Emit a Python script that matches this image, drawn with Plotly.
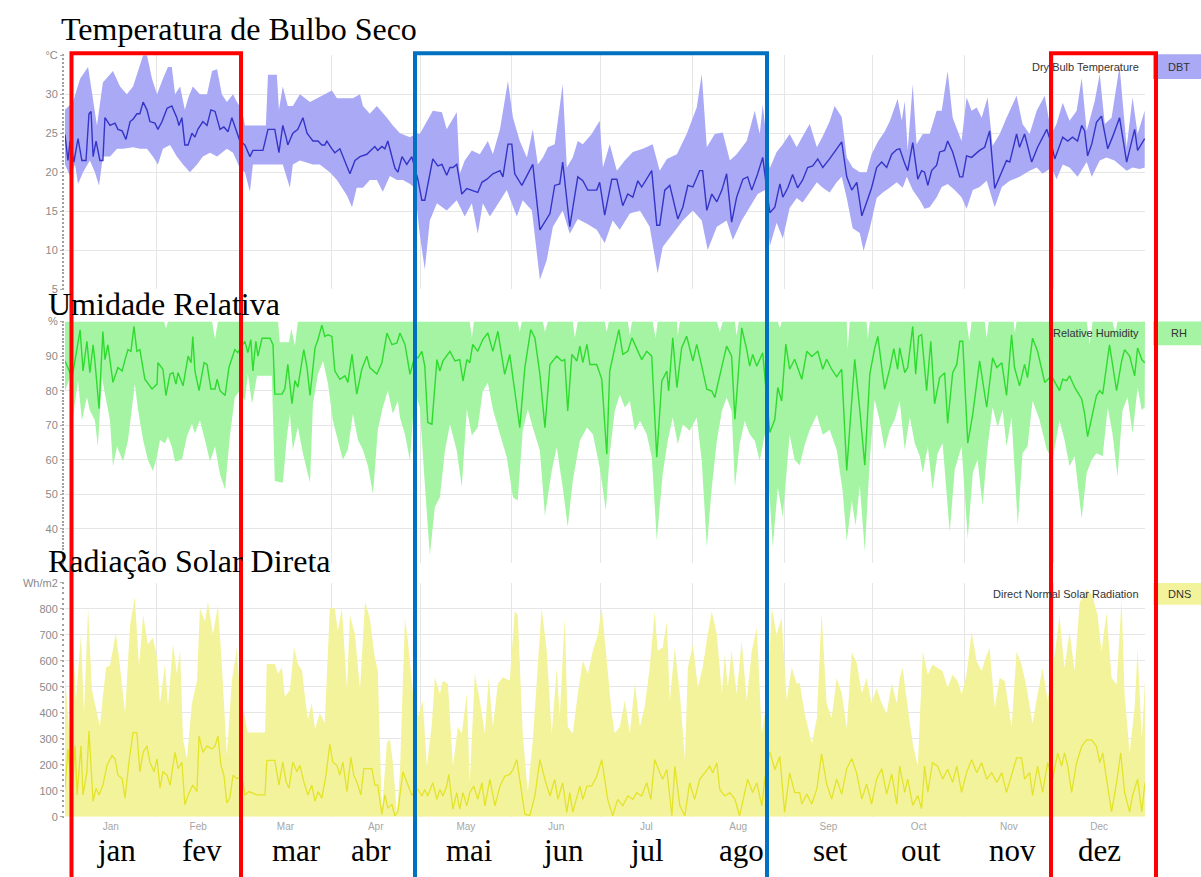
import plotly.graph_objects as go

W, H = 1201, 877

# ---------------- data ----------------
months_en = ["Jan", "Feb", "Mar", "Apr", "May", "Jun", "Jul", "Aug", "Sep", "Oct", "Nov", "Dec"]
months_pt = ["jan", "fev", "mar", "abr", "mai", "jun", "jul", "ago", "set", "out", "nov", "dez"]
month_start = [0, 31, 59, 90, 120, 151, 181, 212, 243, 273, 304, 334]
month_mid = [15.5, 45, 74.5, 105, 135.5, 166, 196.5, 227.5, 258, 288.5, 319, 349.5]

dbt_mean_day = [0,1,1.7,3,4.4,5.7,7.1,8.1,8.8,9.5,10.5,11.8,12.8,13.5,15.2,16.9,17.9,19.3,20.6,22,23,24.3,25.3,26.4,27.7,28.7,30.4,31.4,32.8,34.5,36.1,37.8,38.5,39.5,40.5,41.6,42.9,43.9,44.9,46.6,48,49.3,50.7,52.4,53.7,55.1,56.4,57.8,59.1,60.8,62.5,63.5,66.9,68.6,70.9,72.3,73.6,74.7,75.3,77,78.7,80.4,81.8,82.8,83.8,85.5,86.8,87.8,88.5,90.2,91.2,92.9,93.9,96.3,98,99.7,102,103.7,104.7,105.7,107.1,108.1,109.1,111.5,112.5,113.9,115.5,117.2,119.3,120.6,121.6,124.3,126,127.4,129,130.1,131.1,132.4,134.1,135.8,137.5,139.5,140.9,142.6,144.6,147,148,149.7,151,152,154.4,156.1,158.1,160.5,162.2,163.9,165.5,167.2,168.2,169.6,170.6,173.3,175,176.7,179.7,180.7,182.4,184.8,186.5,188.5,190.2,191.9,193.6,194.9,198.3,200,201,202.7,204.4,207.1,208.8,210.5,212.2,214.5,215.5,216.9,218.6,220.3,222,223.6,225.3,227,229.1,230.7,232.1,234.1,235.8,238.2,239.9,241.6,242.6,244.3,245.9,247.6,249.3,251,252.7,254.4,256.1,258.4,260.8,262.5,264.2,265.9,267.6,269.3,270.9,272.6,274.3,276,277.7,279.4,281.1,282.1,283.8,284.8,286.5,288.2,289.5,290.5,291.6,292.9,294.6,295.6,297.3,298.3,300,302.4,303.4,304.7,306.4,309.1,310.8,312.5,314.2,315.9,318.2,319.3,321.6,322.6,324.3,326.7,328.7,331.8,333.4,334.5,337.2,338.9,340.5,342.2,343.6,344.6,345.6,347,348.6,350.3,352.4,354,356.4,358.8,361.5,362.5,364.9]
dbt_mean = [24.8,21.5,24,21.3,24.3,21.5,21.5,27.5,27.8,22,24,21.5,21.5,27,26,26.3,25.5,25.3,24.2,26.5,26.8,27.5,27.5,29,28,26.5,26.3,25.5,26.5,28.2,28.5,27,26,27,23.5,23.5,25,24.5,25.5,26.5,26,28,27.8,25.5,25.8,25.2,27,25.5,24,23.5,22,22.8,22.8,25.5,25.5,22.5,26,24.5,23.5,25,25.5,27,25,24.5,24,24,23.5,23.5,24,23,22.5,23,22,19.8,21.5,22,22.3,23,23.3,22.8,23.3,23,24,20.5,20,22,21,22,19,16.4,16.4,21.7,20.8,21,19.6,20.6,20.6,21,17.2,17.9,17.7,17.4,18.7,19.1,19.8,20.2,19.4,23.6,23.6,19.8,18.3,19.6,21,12.6,13.6,14.7,18.3,18.5,21.3,16,13,19.4,18.9,17.7,17.7,18.7,14.5,19.1,19.1,15.7,17.2,16.8,18.9,18.1,20.2,13.2,13.2,17.7,18.3,14,15.5,18.3,18.1,20.2,20.2,15.1,17.2,16.2,17.7,19.8,13.6,16.8,19.1,19.4,17.7,19.8,21.9,14.8,15.5,18.5,16.8,18,19.7,18,19,20.6,20.8,21.7,20.6,21.7,22.9,23.9,19.4,17.7,18.7,14.4,16.1,18,20.6,21.3,20.6,22.3,22.9,23,21.1,20.2,23.8,19.1,20.2,20,18.3,20.2,20.9,22.6,22.8,24,22.6,19.4,19.4,22.1,21.9,22.8,23.2,25.3,17.9,19.4,21.5,21.3,24.9,23.2,24.9,21.3,23.2,25.5,23.6,21.7,24.5,24,24.5,24,26,25.3,22.1,23.6,26.4,27.2,23,24.5,27,21.3,25.5,22.8,24.3]

dbt_max_day = [0,2.7,5.1,7.8,10.8,12.8,16.2,18.6,20.9,23,26.4,27.7,29.4,31.1,33.1,34.8,36.1,37.2,38.9,40.5,41.6,43.2,45.6,48,49.7,51.4,53,54.7,56.8,58.1,59.8,60.8,63.5,67.9,68.6,71.6,72.3,73.6,75.3,77,79.4,82.8,90.2,91.9,93.9,97.3,99.7,100.7,103,105.4,108.8,110.8,113.2,116.6,118.9,119.9,124.3,127.4,129,132.4,133.4,135.1,137.5,140.2,142.9,144.6,147,149.7,151.4,153.7,156.1,158.1,159.8,161.5,163.2,165.5,168.2,169.6,171.6,173.3,175,178,180.7,181.8,184.1,186.5,189.2,191.9,195.3,198.6,201,203.4,206.8,210.1,213.5,215.2,216.9,219.6,222.3,224.7,227,230.4,233.1,234.8,235.8,238.2,240.5,242.6,244.9,247.3,249.3,251.7,254.1,256.1,258.4,260.1,262.5,264.2,266.2,268.6,270.9,272.6,274.7,277,278.7,281.4,282.8,283.8,284.8,286.5,287.8,289.9,292.2,294.6,296.3,298.3,300,303,304.7,306.4,308.1,309.8,311.8,313.5,315.9,318.2,321.6,323.6,326,328.4,331.1,333.4,335.1,337.2,339.5,341.9,343.6,345.3,348,349.7,351.4,353.7,356.4,358.8,360.8,362.5,364.9]
dbt_max = [28,29,32,33.5,26,31.5,33,31,30,31,35,35,32,30,32,33.5,33.5,30,31,28,29.5,31,30,30,33,33.2,30,29,30,29,28,26,26,26,32.5,32.5,28,31,28.5,28.5,30,29,30.5,29.5,29.5,29.5,30,28.5,27.5,28.5,27,26,25,24.5,25,24.9,27.9,27.7,25.5,27.7,19.8,21.5,22.8,22.3,24,22.3,25.5,31.7,27,24,21.9,25.5,21,21.9,23.2,23.6,31.3,20.6,21.9,24,23.6,24.9,26.6,20.6,23.6,20.2,21.5,22.6,23,23.6,20.2,21.7,22.3,24.9,28.3,32.6,23.2,24.9,25.1,21.5,22.3,24,27.9,24.9,28.7,20.5,22.6,23.6,24.9,23.2,24.6,26.2,23.2,24.6,26.5,28.5,27.1,21.9,20.6,20,20,22.3,23.9,25.2,26.5,29.4,26.6,29.1,22.8,31.3,23.6,24.9,24.9,27.9,27.9,33,27,24,29.6,27.9,28.3,27,29.6,23.4,24.9,27,29.8,26.2,24.9,27.9,29.8,24.9,26.2,28.9,26.6,27.9,32.1,25.3,29.1,32.6,26.2,27,33.6,23.2,29.6,24.9,27.9]

dbt_min_day = [0,1.7,3.4,4.4,6.1,8.4,10.1,11.5,12.8,15.2,17.6,19.6,23,25.3,27.7,29.7,31.4,33.1,35.5,37.8,39.9,42.2,44.6,46.6,49,51.4,54.7,56.8,59.1,60.8,62.5,63.5,67.9,73.6,76,77,79.4,83.8,86.1,89.5,91.9,95.3,97,98.6,100.7,103,105.4,107.4,109.8,112.2,114.2,116.6,118.2,119.9,121.6,123.3,125.7,129,132.4,135.1,137.5,139.5,141.2,143.6,145.9,149.3,152.7,154.7,157.8,160.5,162.8,164.9,168.2,170.6,173.3,176.4,179.7,182.4,185.1,187.5,190.9,194.3,197.6,200.3,202,205.4,208.8,212.2,215.2,217.2,220.3,223.6,225.7,228.7,231.4,234.1,236.5,238.2,240.5,242.6,244.9,247.3,249.3,251.7,254.1,256.1,258.4,260.8,262.5,264.2,266.2,268.6,269.9,272,274.3,276.4,278.7,281.1,283.1,284.5,286.5,288.9,290.5,292.2,294.6,296.3,298.3,300.7,303,304.7,306.8,309.1,311.5,314.2,316.6,319.3,322.6,326,328.4,330.4,333.4,335.1,337.2,339.5,342.2,345.3,347,349.7,352,354.7,358.8,360.8,363.2,364.9]
dbt_min = [21,19.5,21,18.5,20,21.5,20,18.3,22,22,23,23,23.2,23,23,22,21,23,23.5,22,21,20,21,22,22.5,22,23,22.5,20.5,20,17.5,21,21,21,18,21,21.5,21,21,20,19,17,15.5,18,18,19,19,17.5,19.5,19,19,18.5,18,12,7.5,13.8,16,15.1,16.4,14.3,16,12.1,16,14.3,15.7,17.7,14.3,16.4,15.1,6.2,8.7,13,15.1,12.1,14,13.4,12.6,10.9,13.8,12.6,14.7,15.1,13,7,10.4,12.1,13.8,15.1,13.8,10,13,13.8,11.3,13.8,15.5,17.2,17.7,10.5,13.5,11.5,15.4,16.7,16.1,17.4,18.7,18,17.4,18.7,19.4,16.7,12.8,12.2,9.9,12.8,16.7,17.4,18,18.7,18,19.4,17.7,16.4,15.3,15.5,16.8,18.1,18.5,17.7,16.8,15.3,17.7,18.1,18.9,15.5,18.1,18.9,19.4,20.2,20.6,19.8,20.6,19.1,21,20.6,19.4,21.3,19.4,21.5,21.9,21.5,20.2,20.6,20.4,20.6]

rh_mean_day = [0,2.4,4.1,5.1,6.1,7.4,8.4,9.5,10.1,11.5,12.8,13.5,14.5,16.2,17.9,19.3,20.3,21.3,22.3,23.3,24.3,25.3,27,29.4,31.1,31.4,33.1,34.1,35.5,36.5,37.5,38.2,39.9,41.6,42.6,43.2,43.9,45.3,47,48,49.3,50.7,51.4,52.4,54.1,55.4,57.4,58.4,59.8,60.8,61.8,62.8,63.5,64.5,65.2,66.6,69.3,70.3,70.9,73.3,74.3,75.3,76.7,77.7,78.7,80.7,81.8,82.8,84.5,85.5,86.8,87.8,88.9,90.2,91.2,92.9,94.6,95.6,97,98.6,100.3,102,103,105.4,107.1,108.8,110.5,112.2,113.2,114.9,116.6,118.2,119.3,120.6,121.6,122.6,124,125.7,126.7,127.7,130.1,131.8,133.4,134.5,135.8,136.8,137.8,139.5,141.2,142.9,144.6,146.3,148.6,150.3,152,153.7,155.4,157.4,158.8,160.5,162.2,163.9,166.2,167.9,168.9,169.9,171.3,173,174,175,176.4,177.4,179.7,181.4,183.1,184.1,185.8,187.2,188.5,190.2,191.6,193.2,194.9,196.6,198.3,200,201.7,203.4,204,205.4,206.8,208.4,210.1,212.2,213.5,215.2,216.9,218.6,219.6,220.6,222,223.6,225.3,226.4,228.7,230.4,231.4,232.4,233.8,235.8,238.2,239.9,240.9,242.2,243.6,244.9,246.6,249,250.7,252.4,254.4,256.1,257.4,259.1,260.8,262.5,264.2,265.9,266.9,268.6,270.3,272,273.6,274.7,276,277,278.7,280.1,281.4,282.1,283.8,284.8,286.5,287.5,288.5,289.5,291.2,292.6,293.9,295.6,297.3,298.3,300,301.4,302.4,303.4,305.1,306.8,309.1,311.5,313.5,314.9,316.6,318.2,319.9,320.9,322.6,324.3,325.3,327,328.7,331.1,333.4,336.1,337.2,338.5,339.5,341.2,343.6,344.6,345.6,347,348.6,349.7,350.7,353,355.4,357.1,358.1,359.8,361.5,362.5,363.9,364.9]
rh_mean = [88.6,83.8,92.4,97.6,85.7,94.3,85.2,93.3,88.6,74.8,97.1,89,93.3,82.4,86.7,85.7,89,91.9,91.4,98.6,91.4,91.9,83.3,80.5,81.9,88.1,86.2,78.6,84.8,85.2,81.9,85.2,81.4,90,88.1,95.7,85.7,80,88.1,87.6,80.5,80.5,83.3,80,78.6,86.7,91.9,91,92.9,94.3,91,94.8,85.7,94.3,90,95.2,95.2,93.3,79,79,80.5,87.6,76.2,82.9,81,91.9,86.7,78.6,92.4,94.8,99,95.7,96.2,95.7,85.7,83.3,84.3,82.4,90.5,79,86.2,90,86.7,84.8,88.1,96.7,93.3,93.8,96.7,93.4,84.7,90,89.5,91.4,87.1,70.8,70.3,89,85.7,88.6,91.4,88.6,89,82.8,89,88.1,93.4,91.4,94.8,96.7,91.4,97.2,84.7,90.5,79.9,69.3,86.6,97.7,95.3,84.7,69.3,87.6,90,88.6,89,74.1,90.5,88.6,92.9,88.1,93.4,87.6,87.6,83.3,61.6,85.7,92.4,97.7,90.5,91.4,95.3,92.4,89,91.4,90,60.7,82.8,85.7,79.9,95.3,80.9,92.4,95.8,88.6,93.4,87.1,80.4,79.9,78,81.8,87.1,92.9,90,71.7,98.2,91.9,87.1,90.5,87.1,91,67.9,71.7,80.9,77,93.5,86.2,89.1,83.3,91.4,89.9,91.4,86.2,89.1,86.2,84,86.2,56.9,77.4,89.1,74.5,58.4,84.8,92.2,95.7,86.2,80.4,86.2,92.2,86.2,92.4,85.2,86.7,98.6,84.8,95.7,96.2,80,94.3,76.2,83.8,85.2,70.5,85.2,87.6,94.3,94.3,64.8,73.3,88.6,75.2,89.5,86.7,88.1,78.6,96.2,86.7,81.4,87.6,83.8,95.2,91.4,82.4,84.3,80,83.3,82.9,84.3,81,77.6,73.3,66.7,72.4,78.6,80,79,93.3,80,88.6,91.9,90,84.3,92.4,89,88.1]

rh_max_day = [0,33.5,34.1,34.8,49.7,50.7,51.7,72,72.6,75.7,76.5,77.7,78.7,136.8,137.5,138.2,153,153.7,154.4,161.5,162.2,163.2,171.6,172.3,173.3,182.4,183.1,183.8,190.2,190.9,191.6,198.6,199.6,200.3,206.8,207.1,207.8,220.3,221.3,222.3,226.4,227,227.7,240.9,241.6,242.2,264.2,264.5,265.2,270.9,271.3,272,304.7,305.6,306.4,310.8,311.5,312.2,320.6,321,321.6,345.3,346.3,347.3,354,355,355.7,365]
rh_max = [100,100,98,100,100,95,100,100,94,94,98,93,100,100,95.3,100,100,97,100,100,97,100,100,95.3,100,100,97,100,100,96,100,100,95.3,100,100,96,100,100,97,100,100,96,100,100,98,100,100,92,100,100,95,100,100,94.3,100,100,95.3,100,100,96.7,100,100,93.3,100,100,96.7,100,100]

rh_min_day = [0,1.7,2.7,4.4,5.7,7.4,8.4,10.1,11.1,12.5,13.5,15.2,16.2,17.6,18.6,19.6,21.3,22.6,23.6,24.7,26.4,28,29.7,31.1,32.1,33.8,34.8,36.1,37.2,39.5,41.2,42.9,43.9,45.6,47.3,49,50.7,52.4,54.1,55.7,57.4,59.1,60.8,61.8,63.2,64.9,65.9,69.9,70.9,73.6,75,76,77,78.7,80.4,82.8,83.8,85.5,87.2,88.9,90.5,92.2,93.9,95.6,97.3,99,100.7,102.4,104.1,105.7,107.4,109.1,110.8,112.5,113.2,114.9,116.6,118.2,119.9,121.6,123.3,125,126.7,128.4,130.1,132.4,134.1,135.8,137.5,139.5,141.2,142.9,144.6,147,149.3,151.4,153,154.7,156.4,158.1,160.5,162.2,164.5,166.2,168.2,169.9,171.6,174,176.4,178.4,180.7,182.8,184.1,185.8,187.5,189.2,190.9,192.6,194.3,196.6,198.3,200,202,203.7,205.4,207.1,208.8,211.1,213.5,215.2,216.9,218.6,220.3,222,223.6,225.3,226.4,228,229.7,231.4,233.1,234.8,236.5,238.2,239.2,240.9,242.6,244.9,246.6,248.3,250,251.7,254.1,256.1,258.4,260.8,262.8,264.2,265.9,267.2,268.6,270.3,272,273.6,275.3,277,278.7,280.4,282.1,283.8,285.5,287.2,288.9,289.9,291.6,293.2,294.9,296.6,299,300.7,303,305.1,306.8,308.4,310.1,311.8,313.5,315.2,316.9,318.2,319.9,322,323.6,325.3,327,329.4,331.8,333.8,336.1,337.8,339.5,341.2,343.6,345.3,347,348.6,350.7,352.4,354,355.7,357.4,359.1,360.8,362.5,363.9,364.9]
rh_min = [80,83.8,72.4,82.9,71.4,78.1,74.3,71.4,63.8,83.8,79,71.4,58.1,63.8,61.9,59.5,65.7,75.2,81.9,74.3,65.7,60,56.7,61,65.7,64.8,66.7,63.8,59.5,60,66.7,70.5,67.6,71.4,65.7,59.5,63.8,55.7,51.4,66.7,78.1,80,77.1,84.8,76.2,84.3,84.3,84.3,53.8,53.3,66.7,73.3,62.9,69.5,61.9,53.3,76.2,84.8,88.6,81.9,71.4,65.7,60,62.9,73.3,65.7,62.9,58.1,50,68.6,75.2,80,73.3,77.1,72.2,67.4,59.7,79.9,75.1,53,32.3,46.3,49.1,62.6,70.3,62.6,52,74.6,67,69.3,79.9,82.3,74.6,67.4,60.7,49.1,48.2,68.4,74.6,69.3,62.6,43.8,56.8,63.6,52,40.5,53.9,65.5,69.3,67.4,57.8,45.3,61.6,74.1,78.9,75.1,77,68.4,71.3,67.4,60.7,36.6,55.9,65.5,72.2,64.5,70.3,68.4,72.2,59.7,34.7,52,65.5,74.1,78,74.1,52,64.5,71.3,67.4,65.5,59.7,67.4,48.2,34.7,52,43.4,67.2,59.9,58.4,64.3,68.7,73,67.2,68.7,62.9,51,36.4,48.1,40.9,52.6,33.5,59.9,77.4,71.6,62.9,68.7,71.6,77.1,62.9,72.4,64.8,61,56.2,63.8,51.4,61.9,64.8,39,57.1,63.8,37.1,56.2,60,46.7,63.8,75.2,69.5,74.3,63.8,72.4,41,61.9,63.8,77.1,71.4,62.9,60,71.4,65.7,58.1,61,42.9,56.2,60,61.9,61,75.2,67.6,55.2,74.3,78.1,67.6,81,74.3,75.2]

dns_mean_day = [0,1,2.4,3.4,4.1,5.4,6.1,7.4,8.1,9.5,10.5,11.5,12.8,14.2,15.9,16.9,17.9,19.3,20.3,21.6,23,24.3,25.3,26.4,27.7,28.7,30.1,31.1,32.1,33.1,34.5,35.5,37.2,38.2,39.5,40.5,41.6,43.2,44.6,45.3,46.6,48,49.7,50.7,51.7,52.7,53.7,54.7,55.7,56.8,58.1,59.8,60.8,62.2,64.9,67.6,68.2,70.9,72.3,73.6,74.7,75.7,77,78.4,79.4,80.7,82.1,83.4,84.5,85.5,86.8,88.2,89.5,90.5,91.9,92.9,93.9,95.3,96.6,97.6,98.6,100,101,103.7,104.7,105.7,107.1,108.1,109.1,110.5,111.5,112.5,114.2,115.5,117.2,119.3,120.6,121.6,122.6,124.3,125.7,126.7,127.7,129,129.7,131.1,132.4,133.4,134.5,135.8,136.8,138.2,139.5,140.9,141.9,143.6,145.3,147,148.6,150.3,151.4,152.7,153.7,155.4,157.1,158.8,160.5,162.2,163.9,165.5,166.6,168.2,169.6,170.6,171.6,173,174,175,176.4,178,179.7,181.4,182.4,183.4,185.1,186.8,188.5,190.2,191.9,193.2,194.9,196.6,198,199.3,201,202,203.4,205.1,206.1,207.8,209.5,211.1,212.8,214.5,216.2,217.9,218.9,220.3,221.3,223,224.7,226.4,228,229.7,230.7,232.4,233.8,235.5,236.5,238.2,239.9,241.6,243.2,244.9,246.6,248.3,249,250.7,252.4,254.1,255.7,257.4,259.1,260.8,262.5,264.2,265.9,267.6,269.3,270.9,272.6,274.3,276,277.7,279.4,281.1,282.1,283.8,284.8,286.5,288.2,289.5,290.5,291.6,293.2,294.9,296.6,298.3,300,301.4,303,304.7,306.4,308.1,309.8,311.5,313.2,314.9,316.6,318.2,319.9,321.6,323.3,324.3,326,327,328.7,330.4,332.1,333.8,335.5,336.8,337.8,338.9,340.2,341.9,343.6,345.3,347,348.6,349.7,350.7,352,353.7,355.4,356.8,358.1,359.8,360.8,362.5,363.9,365]
dns_mean = [110,261,84,273,84,273,84,173,330,59,110,84,122,198,236,223,160,147,72,210,324,324,173,248,273,210,173,223,110,173,160,122,248,185,210,46,84,122,97,311,248,273,261,273,311,198,160,53,72,160,147,154,84,97,84,84,217,217,122,210,135,110,210,173,198,135,84,122,59,97,72,160,280,210,198,160,210,97,229,160,135,84,185,185,122,122,9,84,34,47,3,21,173,135,84,105,80,105,80,131,67,105,80,118,163,29,93,29,93,42,93,118,67,131,42,144,42,118,156,163,182,220,144,10,4,80,220,144,80,144,67,131,17,93,17,80,118,67,118,118,156,220,144,67,4,67,42,80,67,93,80,131,67,220,169,144,182,4,194,42,4,131,67,144,169,194,169,207,105,80,93,67,4,93,144,93,131,42,144,250,182,232,17,169,93,93,49,87,49,107,242,126,68,145,87,185,224,165,68,126,49,145,185,87,165,49,195,94,145,44,82,31,195,94,208,195,145,183,132,195,94,170,220,170,208,145,170,132,170,94,157,227,227,145,170,82,195,94,208,145,246,195,246,195,94,208,271,296,296,271,208,246,145,19,132,246,94,19,82,145,19,132]

dns_max_day = [0,1.7,2.7,3.7,5.4,6.4,7.8,9.1,10.8,11.8,12.8,13.9,15.2,17.2,18.6,20.3,22,23.6,25,26.4,28,29.7,31.1,32.1,33.8,34.8,36.5,37.8,38.9,39.9,41.2,42.9,44.6,45.6,47.3,48.3,50,51.7,53,54.7,56.4,58.1,59.1,60.8,61.8,67.6,68.2,70.9,72,73.3,74.3,76,77.4,78.7,80.1,81.1,82.1,83.4,84.5,86.1,87.8,89.5,91.2,92.2,93.6,95.3,96.3,98,99.7,101.4,103,104.7,105.7,107.1,108.8,109.8,110.8,112.2,113.2,114.9,115.9,117.6,119.3,120.9,122.3,124,125,126.7,127.7,129.4,131.1,132.8,134.1,135.8,136.8,138.5,140.2,141.9,143.2,144.6,146.3,148,150.3,152,153,154.7,156.4,158.1,159.8,161.1,162.8,164.5,166.2,167.2,168.9,169.9,171.6,173.3,175,176.7,178.4,180.1,181.4,183.1,184.8,185.8,187.5,189.2,190.9,192.6,194.3,195.9,197.6,199.3,200.3,202,203.4,204.4,206.1,207.8,209.5,210.5,212.2,213.9,215.5,217.2,218.6,220.3,222,223,224,225.3,227,228.7,230.4,232.1,233.8,235.5,237.2,238.9,240.5,242.2,243.9,245.6,247.3,248.3,250,252.4,254.1,255.7,257.4,259.1,260.8,262.5,264.2,265.9,267.6,269.3,270.9,272.6,274.3,276,277.7,279.4,281.1,282.1,283.1,284.8,286.5,288.2,289.9,291.6,293.2,294.9,296.6,298.3,300,301.7,303,304.7,306.4,308.1,309.8,311.5,312.5,314.2,315.9,317.6,319.9,321.6,323.3,325,327,328.7,330.4,332.1,334.5,336.1,337.8,339.5,341.2,342.9,345.3,347.3,349,350.3,352,353.7,355.4,357.1,358.1,359.8,361.5,362.5,363.9,365]
dns_max = [538,299,677,450,702,399,803,488,399,349,462,576,582,708,576,399,740,847,576,777,664,689,614,437,588,425,664,551,639,299,223,437,525,803,752,828,702,815,588,236,525,651,475,374,324,324,588,588,551,576,462,488,651,588,563,462,374,437,336,399,362,803,803,714,803,488,777,702,488,828,765,614,563,21,286,299,210,9,173,765,677,474,385,448,194,359,537,474,524,512,194,347,321,474,131,550,448,321,537,347,512,537,524,791,778,321,93,296,575,804,639,321,575,385,766,347,321,474,601,550,639,702,804,601,397,321,347,448,321,512,347,423,575,791,639,652,753,448,652,474,220,575,664,499,575,702,791,702,474,626,499,639,474,677,448,639,728,321,448,804,702,766,448,575,512,515,398,281,379,788,437,379,534,476,341,633,592,476,534,437,496,437,398,515,437,535,573,422,283,195,636,548,586,573,561,498,548,523,472,548,712,598,561,624,649,422,535,523,346,636,586,498,359,472,573,447,624,775,573,712,561,825,876,850,775,636,787,535,510,838,472,246,422,649,296,523]

# ---------------- styling ----------------
dbt_band, dbt_line = "#a9a9f5", "#3434c8"
rh_band, rh_line = "#a4f4a4", "#2edb2e"
dns_band, dns_line = "#f3f39c", "#e3e32a"
grid = "#e6e6e6"
tickgray = "#8a8a8a"
sans = "Liberation Sans, Arial, sans-serif"
serif = "Liberation Serif, Times New Roman, serif"


def px(x):
    return x / W


def py(y):
    return 1 - y / H


fig = go.Figure()


def band(xs_hi, ys_hi, xs_lo, ys_lo, color, xa, ya):
    fig.add_trace(go.Scatter(
        x=list(xs_hi) + list(xs_lo)[::-1], y=list(ys_hi) + list(ys_lo)[::-1],
        fill="toself", fillcolor=color, mode="lines", line=dict(width=0),
        hoverinfo="skip", xaxis=xa, yaxis=ya, showlegend=False))


band(dbt_max_day, dbt_max, dbt_min_day, dbt_min, dbt_band, "x", "y")
fig.add_trace(go.Scatter(x=dbt_mean_day, y=dbt_mean, mode="lines",
                         line=dict(color=dbt_line, width=1.4), xaxis="x", yaxis="y", showlegend=False))

band(rh_max_day, rh_max, rh_min_day, rh_min, rh_band, "x2", "y2")
fig.add_trace(go.Scatter(x=rh_mean_day, y=rh_mean, mode="lines",
                         line=dict(color=rh_line, width=1.4), xaxis="x2", yaxis="y2", showlegend=False))

fig.add_trace(go.Scatter(x=dns_max_day, y=dns_max, mode="lines", fill="tozeroy",
                         fillcolor=dns_band, line=dict(width=0), xaxis="x3", yaxis="y3", showlegend=False))
fig.add_trace(go.Scatter(x=dns_mean_day, y=dns_mean, mode="lines",
                         line=dict(color=dns_line, width=1.3), xaxis="x3", yaxis="y3", showlegend=False))

xdom = [px(65), px(1145)]


def xaxis(show_labels, anchor):
    return dict(domain=xdom, range=[0, 365], anchor=anchor, showline=False, zeroline=False,
                tickvals=month_mid, ticktext=months_en, showticklabels=show_labels,
                ticks="", showgrid=False, ticklabelstandoff=2,
                tickfont=dict(family=sans, size=10, color="#a6a6a6"),
                minor=dict(tickvals=month_start, showgrid=True, gridcolor=grid, gridwidth=1,
                           ticks="", ticklen=3, tickcolor="#cccccc"))


def yaxis(dom, rng, vals, texts, minor_dt, anchor):
    return dict(domain=dom, range=rng, anchor=anchor, tickvals=vals, ticktext=texts,
                showgrid=True, gridcolor=grid, zeroline=False, showline=False,
                ticks="outside", ticklen=4, tickcolor="#aaaaaa",
                tickfont=dict(family=sans, size=11, color=tickgray),
                minor=dict(dtick=minor_dt, ticks="outside", ticklen=2, tickwidth=1.5,
                           tickcolor="#a0a0a0", showgrid=False))


fig.update_layout(
    width=W, height=H, margin=dict(l=0, r=0, t=0, b=0),
    paper_bgcolor="white", plot_bgcolor="white", showlegend=False,
    xaxis=xaxis(False, "y"), xaxis2=xaxis(False, "y2"), xaxis3=xaxis(True, "y3"),
    # weekly tick marks under the bottom panel
    xaxis4=dict(domain=xdom, range=[0, 365], anchor="y3", overlaying="x3", side="bottom",
                tick0=6, dtick=7, ticks="outside", ticklen=3, tickcolor="#cfcfcf",
                showticklabels=False, showgrid=False, zeroline=False, showline=False),
    yaxis=yaxis([py(287), py(50)], [5, 35], [5, 10, 15, 20, 25, 30, 35],
                ["5", "10", "15", "20", "25", "30", "°C"], 0.5, "x"),
    yaxis2=yaxis([py(565), py(320)], [30, 100], [30, 40, 50, 60, 70, 80, 90, 100],
                 ["", "40", "50", "60", "70", "80", "90", "%"], 1, "x2"),
    yaxis3=yaxis([py(822), py(585)], [0, 900], [0, 100, 200, 300, 400, 500, 600, 700, 800, 900],
                 ["0", "100", "200", "300", "400", "500", "600", "700", "800", "Wh/m2"], 20, "x3"),
)

annotations = []
# legend labels and boxes
legend_items = [("Dry Bulb Temperature", "DBT", dbt_band, 62, 49, 74),
                ("Relative Humidity", "RH", rh_band, 332, 320, 344),
                ("Direct Normal Solar Radiation", "DNS", dns_band, 596, 585, 607)]
shapes = []
for label, code, col, yc, y0, y1 in legend_items:
    annotations.append(dict(x=px(1141), y=py(yc), xref="paper", yref="paper", xanchor="right",
                            yanchor="middle", text=label, showarrow=False,
                            font=dict(family=sans, size=11, color="#333333")))
    shapes.append(dict(type="rect", xref="paper", yref="paper", x0=px(1153), x1=px(1201),
                       y0=py(y1), y1=py(y0), fillcolor=col, line=dict(width=0), layer="below"))
    annotations.append(dict(x=px(1179), y=py(yc), xref="paper", yref="paper", xanchor="center",
                            yanchor="middle", text=code, showarrow=False,
                            font=dict(family=sans, size=11, color="#333333")))

# Portuguese titles
titles = [("Temperatura de Bulbo Seco", 59, 23), ("Umidade Relativa", 46, 302),
          ("Radiação Solar Direta", 46, 563)]
for t, x, y in titles:
    annotations.append(dict(x=px(x), y=py(y), xref="paper", yref="paper", xanchor="left",
                            yanchor="middle", text=t, showarrow=False,
                            font=dict(family=serif, size=32, color="black")))

pt_label_x = [116, 202, 296, 371, 469, 563, 647, 741, 830, 921, 1012, 1099]
for name, x in zip(months_pt, pt_label_x):
    annotations.append(dict(x=px(x), y=py(856), xref="paper", yref="paper", xanchor="center",
                            yanchor="middle", text=name, showarrow=False,
                            font=dict(family=serif, size=31, color="black")))

# highlight rectangles
rects = [(71.5, 241, "#ff0000"), (415, 767, "#0070c0"), (1051, 1156, "#ff0000")]
for x0, x1, col in rects:
    shapes.append(dict(type="rect", xref="paper", yref="paper", x0=px(x0), x1=px(x1),
                       y0=py(895), y1=py(48), line=dict(color=col, width=4),
                       fillcolor="rgba(0,0,0,0)", layer="above"))

fig.update_layout(annotations=annotations, shapes=shapes)
fig.write_html("out.html")
